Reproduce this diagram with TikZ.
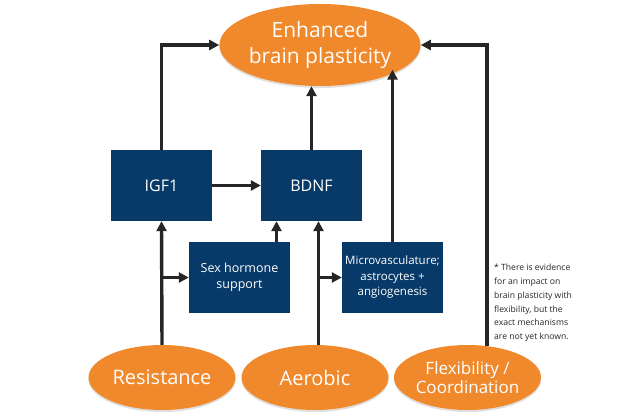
\documentclass[tikz,border=0pt]{standalone}
\usepackage{fontspec}
\setmainfont{Open Sans}
\usetikzlibrary{shapes.geometric,arrows.meta,shadows}
\definecolor{orng}{HTML}{F0882C}
\definecolor{navy}{HTML}{073A68}
\definecolor{arr}{HTML}{262626}
\tikzset{
  oval/.style={ellipse,fill=orng,draw=none,text=white,inner sep=0pt,align=center,
    drop shadow={opacity=0.25,shadow xshift=0pt,shadow yshift=-2pt}},
  bluebox/.style={rectangle,fill=navy,draw=none,text=white,minimum width=101pt,minimum height=71pt,inner sep=2pt,align=center},
  conn/.style={draw=arr,line width=3.4pt,-{Triangle[length=10pt,width=10pt]}},
  plain/.style={draw=arr,line width=3.4pt}
}
\begin{document}
\begin{tikzpicture}[x=1pt,y=1pt]
\useasboundingbox (0,0) rectangle (634,-419);
% nodes
\node[oval,minimum width=185pt,minimum height=82pt,font=\fontsize{21}{26}\selectfont] (top) at (320,-45) {Enhanced\\brain plasticity};
\node[bluebox,font=\fontsize{16}{19}\selectfont] (igf) at (161.5,-185.5) {IGF1};
\node[bluebox,font=\fontsize{16}{19}\selectfont] (bdnf) at (311.5,-185.5) {BDNF};
\node[bluebox,font=\fontsize{12.5}{16}\selectfont] (sex) at (239.5,-277.5) {Sex hormone\\support};
\node[bluebox,font=\fontsize{11.5}{15.5}\selectfont] (micro) at (392.5,-277.5) {Microvasculature;\\astrocytes +\\angiogenesis};
\node[oval,minimum width=147pt,minimum height=65pt,font=\fontsize{20}{23}\selectfont] (res) at (162,-377.5) {Resistance};
\node[oval,minimum width=147pt,minimum height=65pt,font=\fontsize{20}{23}\selectfont] (aer) at (315,-377.5) {Aerobic};
\node[oval,minimum width=147pt,minimum height=65pt,font=\fontsize{17}{19.5}\selectfont] (flex) at (467.5,-377.5) {Flexibility /\\Coordination};
\node[anchor=north west,inner sep=0pt,align=left,text=arr,font=\fontsize{8.6}{13.8}\selectfont] (note) at (494,-264) {* There is evidence\\for an impact on\\brain plasticity with\\flexibility, but the\\exact mechanisms\\are not yet known.};
% connectors
\draw[conn] (igf.north) |- (top.west);
\draw[conn] (igf.east) -- (bdnf.west);
\draw[conn] (bdnf.north) -- (bdnf.north |- top.south);
\draw[conn] (micro.north) -- (micro.north |- top.-17);
\draw[conn] (flex.58) |- (top.east);
\draw[conn] (res.north) -- (igf.south);
\draw[conn] (res.north |- sex.west) -- (sex.west);
\draw[conn] ([xshift=37pt]sex.north) coordinate (s1) -- (s1 |- bdnf.south);
\draw[conn] ([xshift=3.5pt]aer.north) coordinate (a1) -- (a1 |- bdnf.south);
\draw[conn] (a1 |- micro.west) -- (micro.west);
\end{tikzpicture}
\end{document}
